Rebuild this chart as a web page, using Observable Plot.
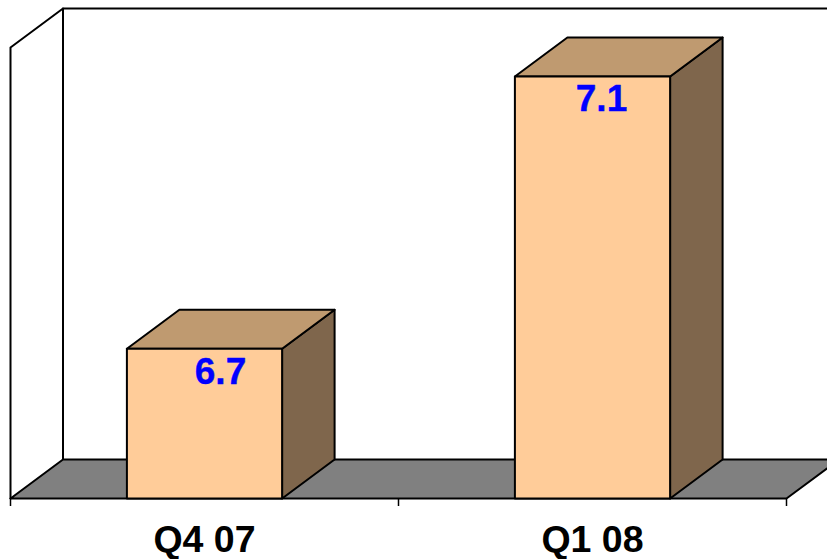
<!DOCTYPE html>
<html><head><meta charset="utf-8">
<script src="https://cdn.jsdelivr.net/npm/d3@7"></script>
<script src="https://cdn.jsdelivr.net/npm/@observablehq/plot@0.6"></script>
<style>html,body{margin:0;padding:0;background:#fff}svg{display:block}</style>
</head><body><div id="chart"></div>
<script>
const categories = ["Q4 07", "Q1 08"];
const values = [6.7, 7.1];
const labelNudge = [16, 9];
const yBase = 6.48, yTop = 7.2;
const halfBar = 0.2;
const depthX = 52.5 / 388, depthY = 0.0573;

const colors = {front: "#FFCC99", top: "#BF9A70", side: "#7F664C", floor: "#808080"};
const ink = "#000";

const pts = (id, list) => list.map(([x, y]) => ({id, x, y}));
const bars = values.map((v, i) => ({i, v, l: i - halfBar, r: i + halfBar}));
const topFaces = bars.flatMap(b => pts(b.i, [[b.l, b.v], [b.r, b.v], [b.r + depthX, b.v + depthY], [b.l + depthX, b.v + depthY]]));
const sideFaces = bars.flatMap(b => pts(b.i, [[b.r, yBase], [b.r + depthX, yBase + depthY], [b.r + depthX, b.v + depthY], [b.r, b.v]]));
const frontFaces = bars.flatMap(b => pts(b.i, [[b.l, yBase], [b.r, yBase], [b.r, b.v], [b.l, b.v]]));
const floor = pts("floor", [[-0.5, yBase], [1.5, yBase], [1.5 + depthX, yBase + depthY], [-0.5 + depthX, yBase + depthY]]);
const wallLeft = pts("l", [[-0.5, yBase], [-0.5, yTop - depthY], [-0.5 + depthX, yTop], [-0.5 + depthX, yBase + depthY]]);
const wallBack = pts("b", [[-0.5 + depthX, yTop], [1.5 + depthX, yTop]]);

const face = (data, fill) => Plot.line(data, {x: "x", y: "y", z: "id", fill, stroke: ink, strokeWidth: 2, curve: "linear-closed"});

const chart = Plot.plot({
  width: 827, height: 559,
  marginTop: 8, marginBottom: 61, marginLeft: 10, marginRight: 41,
  style: {background: "#fff", fontFamily: "'Liberation Sans', Arial, sans-serif"},
  x: {type: "linear", domain: [-0.5, 1.5], axis: null},
  y: {type: "linear", domain: [yBase, yTop], axis: null},
  marks: [
    Plot.line(wallLeft, {x: "x", y: "y", stroke: ink, strokeWidth: 2}),
    Plot.line(wallBack, {x: "x", y: "y", stroke: ink, strokeWidth: 2}),
    face(floor, colors.floor),
    face(sideFaces, colors.side),
    face(topFaces, colors.top),
    face(frontFaces, colors.front),
    Plot.axisX({ticks: [-0.5, 0.5, 1.5], tickFormat: () => "", tickSize: 8, stroke: ink, strokeWidth: 1.5}),
    Plot.axisX({ticks: [0, 1], tickFormat: i => categories[i], tickSize: 0, tickPadding: 27,
      fontSize: 37.5, fontWeight: "bold", fill: "#000", stroke: "#000", strokeWidth: 0.4, lineAnchor: "top", labelArrow: "none", label: null}),
    ...bars.map(b => Plot.text([b], {x: "i", y: "v", text: d => d.v.toFixed(1), dx: labelNudge[b.i], dy: 23,
      fontSize: 37, fontWeight: "bold", fill: "#0000FF", stroke: "#0000FF", strokeWidth: 0.4, lineAnchor: "middle"}))
  ]
});
document.getElementById("chart").append(chart);
</script></body></html>
